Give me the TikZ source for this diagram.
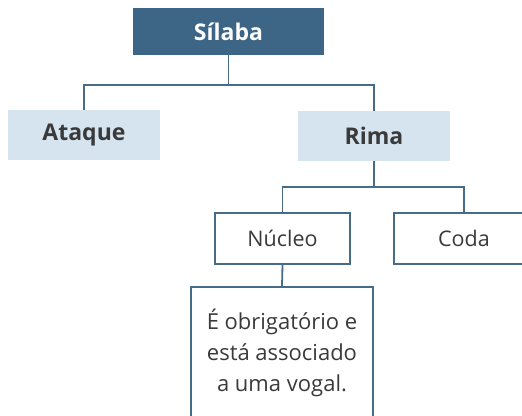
\documentclass[tikz,border=0pt]{standalone}
\usepackage{fontspec}
\setmainfont{Open Sans}
\definecolor{darkbox}{HTML}{3D6585}
\definecolor{lightbox}{HTML}{D6E4EF}
\definecolor{linec}{HTML}{466C8A}
\definecolor{txt}{HTML}{3A3A3A}
\begin{document}
\begin{tikzpicture}[x=1pt,y=1pt,
  topbox/.style={fill=darkbox,text=white,font=\bfseries\fontsize{23}{26}\selectfont,minimum width=191pt,minimum height=47pt,inner sep=0pt},
  midbox/.style={fill=lightbox,text=txt,font=\bfseries\fontsize{23}{26}\selectfont,minimum width=152pt,minimum height=50pt,inner sep=0pt},
  lowbox/.style={draw=linec,line width=1.2pt,fill=white,text=txt,font=\fontsize{21.5}{25}\selectfont,minimum height=51pt,inner sep=0pt},
  notebox/.style={draw=linec,line width=1.2pt,fill=white,text=txt,font=\fontsize{22}{31}\selectfont,align=center,minimum width=182pt,minimum height=131pt,inner sep=0pt},
  conn/.style={draw=linec,line width=1.8pt}]
\useasboundingbox (0,0) rectangle (522,415);
\node[topbox] (silaba) at (228.5,383.5) {Sílaba};
\node[midbox] (ataque) at (84,280) {Ataque};
\node[midbox] (rima) at (374,279) {Rima};
\node[lowbox,minimum width=135pt] (nucleo) at (282.5,176.5) {Núcleo};
\node[lowbox,minimum width=140pt] (coda) at (464,176.5) {Coda};
\node[notebox] (nota) at (282,62.5) {É obrigatório e\\está associado\\a uma vogal.};
\coordinate (j1) at (228.5,330);
\coordinate (j2) at (374,228);
\draw[conn] (silaba.south) -- (j1);
\draw[conn] (ataque.north) |- (j1) -| (rima.north);
\draw[conn] (rima.south) -- (j2);
\draw[conn] (nucleo.north) |- (j2) -| (coda.north);
\draw[conn] (nucleo.south) -- (nota.north);
\end{tikzpicture}
\end{document}
